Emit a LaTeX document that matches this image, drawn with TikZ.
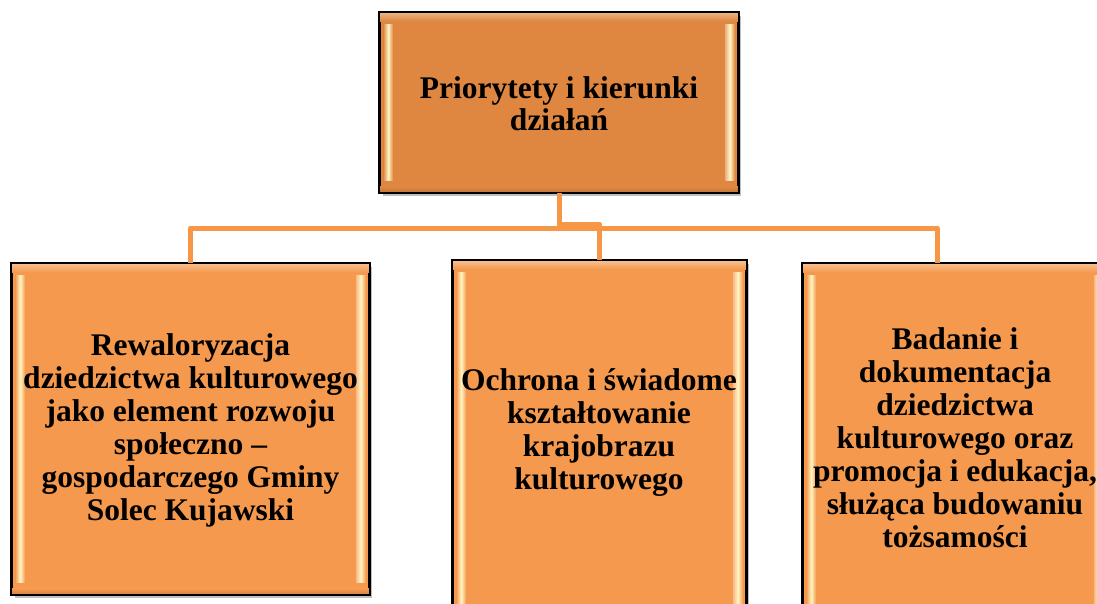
\documentclass[tikz,border=0pt]{standalone}
\usepackage{fontspec}
\setmainfont{Liberation Serif}
\usetikzlibrary{calc}
\definecolor{topfill}{HTML}{DF8740}
\definecolor{botfill}{HTML}{F4994E}
\definecolor{connc}{HTML}{F79646}
\definecolor{hilite}{HTML}{FFF6C4}
\tikzset{
  boxbase/.style={draw=black, line width=1.6pt, inner sep=0pt, rectangle},
  topbox/.style={boxbase, fill=topfill},
  botbox/.style={boxbase, fill=botfill},
  label/.style={align=center, inner sep=0pt, font=\fontsize{31.5}{33}\selectfont\bfseries},
  conn/.style={draw=connc, line width=5pt, line join=round},
}
\begin{document}
\begin{tikzpicture}[x=1pt,y=-1pt]
\useasboundingbox (0,0) rectangle (1097,604);
\clip (0,0) rectangle (1097,604);
% shadows
\foreach \cx/\cy/\w/\h in {559/102.5/358/179, 190.5/429/357/330, 599.5/455.5/293/389, 955/457/304/386}{
  \fill[black, opacity=0.25] (\cx-\w/2+3,\cy-\h/2+3) rectangle (\cx+\w/2+3,\cy+\h/2+4);
}
% boxes
\node[topbox, minimum width=358pt, minimum height=179pt] (top) at (559,102.5) {};
\node[botbox, minimum width=357pt, minimum height=330pt] (left) at (190.5,429) {};
\node[botbox, minimum width=293pt, minimum height=389pt] (mid) at (599.5,455.5) {};
\node[botbox, minimum width=304pt, minimum height=386pt] (right) at (955,457) {};
% bevels
\foreach \n/\c in {top/topfill, left/botfill, mid/botfill, right/botfill}{
  \shade[top color=white!35!\c, bottom color=\c] ($(\n.north west)+(1,1)$) rectangle ($(\n.north east)+(-1,9)$);
  \shade[left color=\c, right color=\c, middle color=hilite]
    ($(\n.north west)+(4,12)$) rectangle ($(\n.south west)+(14,-12)$);
  \shade[left color=white!30!\c, right color=\c, middle color=hilite]
    ($(\n.north east)+(-14,12)$) rectangle ($(\n.south east)+(-4,-12)$);
  \shade[top color=\c, bottom color=black!12!\c] ($(\n.south west)+(1,-6)$) rectangle ($(\n.south east)+(-1,-1)$);
  \draw[black, line width=1.6pt] (\n.north west) rectangle (\n.south east);
}
% connectors
\coordinate (hub) at (559,228);
\coordinate (midhub) at (559,224);
\coordinate (rdrop) at (937,228);
\draw[conn] (top.south) -- (hub);
\draw[conn] (hub) -| (left.north);
\draw[conn] (hub) -- (rdrop) -- (rdrop |- right.north);
\draw[conn] (midhub) -| (mid.north);
% texts
\node[label, font=\fontsize{31.5}{32}\selectfont\bfseries] (ttop) at (559,104) {Priorytety i kierunki\\działań};
\node[label] (tleft) at (190.5,430) {Rewaloryzacja\\dziedzictwa kulturowego\\jako element rozwoju\\społeczno –\\gospodarczego Gminy\\Solec Kujawski};
\node[label] (tmid) at (599,433) {Ochrona i świadome\\kształtowanie\\krajobrazu\\kulturowego};
\node[label] (tright) at (955,438) {Badanie i\\dokumentacja\\dziedzictwa\\kulturowego oraz\\promocja i edukacja,\\służąca budowaniu\\tożsamości};
\end{tikzpicture}
\end{document}
